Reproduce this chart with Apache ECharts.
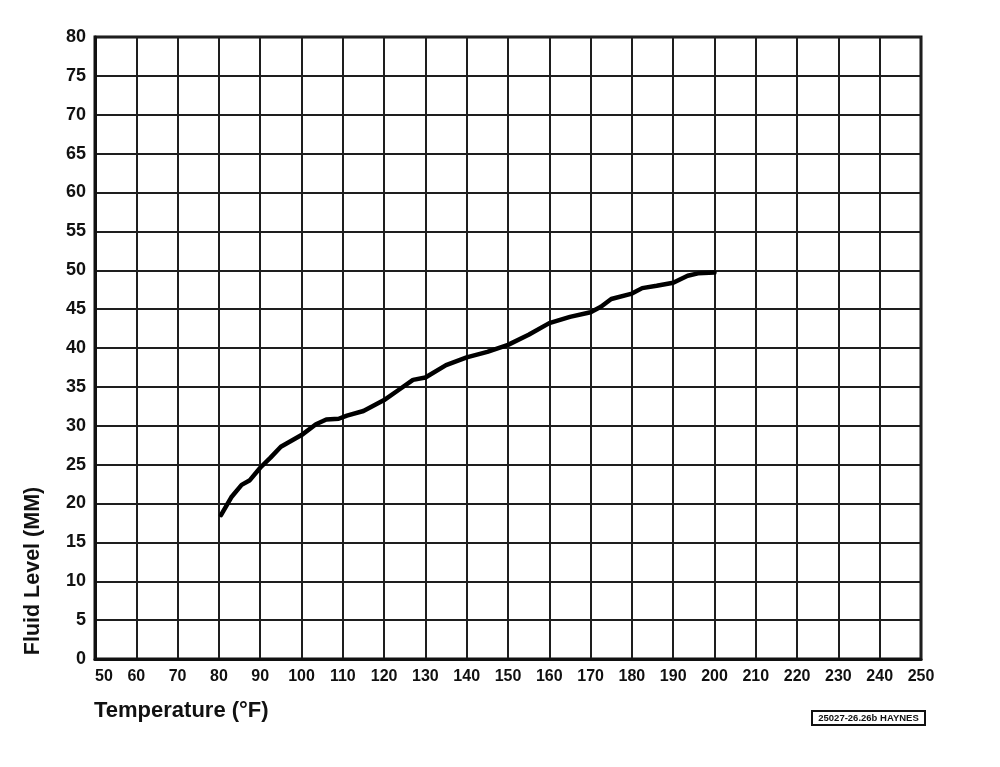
<!DOCTYPE html>
<html>
<head>
<meta charset="utf-8">
<script src="https://cdn.jsdelivr.net/npm/echarts@6/dist/echarts.min.js"></script>
<style>
html,body{margin:0;padding:0;background:#fff;}
#chart{width:1000px;height:767px;}
</style>
</head>
<body>
<div id="chart"></div>
<script>
// Temperature (°F) and fluid level (MM)
const temps  = [80.5, 83, 85.5, 87.5, 90, 92.5, 95, 100, 103.5, 106, 109, 111, 115, 117.5, 120, 123.5, 127, 130, 135, 140, 145, 150, 155, 160, 165, 170, 172.5, 175, 180, 182.5, 186, 190, 193.5, 196, 200];
const levels = [18.5, 20.8, 22.4, 23.0, 24.6, 25.9, 27.3, 28.8, 30.2, 30.8, 30.9, 31.3, 31.9, 32.6, 33.3, 34.6, 35.9, 36.2, 37.8, 38.8, 39.5, 40.4, 41.7, 43.2, 44.0, 44.6, 45.3, 46.3, 47.0, 47.7, 48.0, 48.4, 49.3, 49.6, 49.7];
const xTitle = 'Temperature (°F)';
const yTitle = 'Fluid Level (MM)';
const stamp = '25027-26.26b HAYNES';

const font = '"Liberation Sans", Arial, sans-serif';
const chart = echarts.init(document.getElementById('chart'), null, {renderer: 'canvas'});
chart.setOption({
  backgroundColor: '#ffffff',
  animation: false,
  grid: {left: 95, top: 37, width: 826, height: 622, show: true, borderColor: '#111', borderWidth: 3, containLabel: false},
  xAxis: {
    type: 'value', min: 50, max: 250, interval: 10,
    axisLine: {show: true, onZero: false, lineStyle: {color: '#111', width: 3}},
    axisTick: {show: false},
    splitLine: {show: true, lineStyle: {color: '#1e1e1e', width: 2}},
    axisLabel: {color: '#111', fontFamily: font, fontSize: 16, fontWeight: 'bold', margin: 10, alignMinLabel: 'left'}
  },
  yAxis: {
    type: 'value', min: 0, max: 80, interval: 5,
    axisLine: {show: true, lineStyle: {color: '#111', width: 3}},
    axisTick: {show: false},
    splitLine: {show: true, lineStyle: {color: '#1e1e1e', width: 2}},
    axisLabel: {color: '#111', fontFamily: font, fontSize: 18, fontWeight: 'bold', margin: 9}
  },
  series: [{
    type: 'line',
    data: temps.map((t, i) => [t, levels[i]]),
    showSymbol: false,
    smooth: false,
    lineStyle: {color: '#000', width: 4.5, cap: 'round', join: 'round'}
  }],
  graphic: [
    {type: 'text', left: 94, top: 700, style: {text: xTitle, font: 'bold 22px ' + font, fill: '#111'}},
    {type: 'text', x: 33, y: 571, rotation: Math.PI / 2,
     style: {text: yTitle, font: 'bold 21.5px ' + font, fill: '#111', align: 'center', verticalAlign: 'middle'}},
    {type: 'rect', shape: {x: 812, y: 711, width: 113, height: 14},
     style: {fill: '#fff', stroke: '#111', lineWidth: 2}},
    {type: 'text', x: 868.5, y: 718, style: {text: stamp, font: 'bold 9.5px ' + font, fill: '#111', align: 'center', verticalAlign: 'middle'}}
  ]
});
</script>
</body>
</html>
